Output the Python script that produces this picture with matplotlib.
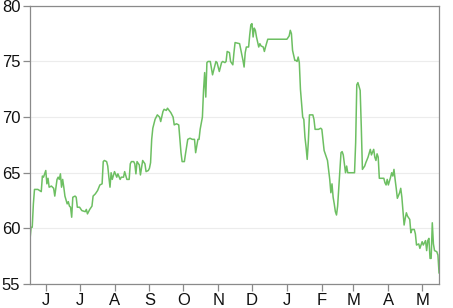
import matplotlib
matplotlib.use('Agg')

import matplotlib.pyplot as plt
import matplotlib.dates as mdates
import pandas as pd

# daily price series (May 2021 - May 2022)
dates = [
    "2021-05-18", "2021-05-19", "2021-05-20", "2021-05-21", "2021-05-22", "2021-05-25",
    "2021-05-28", "2021-05-29", "2021-05-30", "2021-06-01", "2021-06-02", "2021-06-03",
    "2021-06-04", "2021-06-06", "2021-06-08", "2021-06-09", "2021-06-11", "2021-06-12",
    "2021-06-13", "2021-06-14", "2021-06-15", "2021-06-16", "2021-06-17", "2021-06-18",
    "2021-06-20", "2021-06-21", "2021-06-22", "2021-06-23", "2021-06-24", "2021-06-25",
    "2021-06-27", "2021-06-28", "2021-06-29", "2021-07-01", "2021-07-03", "2021-07-06",
    "2021-07-07", "2021-07-08", "2021-07-10", "2021-07-12", "2021-07-13", "2021-07-15",
    "2021-07-17", "2021-07-19", "2021-07-21", "2021-07-22", "2021-07-23", "2021-07-25",
    "2021-07-26", "2021-07-27", "2021-07-28", "2021-07-29", "2021-07-30", "2021-08-01",
    "2021-08-03", "2021-08-04", "2021-08-06", "2021-08-07", "2021-08-09", "2021-08-10",
    "2021-08-12", "2021-08-14", "2021-08-15", "2021-08-16", "2021-08-18", "2021-08-19",
    "2021-08-20", "2021-08-21", "2021-08-23", "2021-08-24", "2021-08-26", "2021-08-28",
    "2021-08-29", "2021-08-31", "2021-09-01", "2021-09-02", "2021-09-03", "2021-09-04",
    "2021-09-06", "2021-09-08", "2021-09-10", "2021-09-11", "2021-09-13", "2021-09-14",
    "2021-09-16", "2021-09-17", "2021-09-20", "2021-09-22", "2021-09-23", "2021-09-25",
    "2021-09-27", "2021-09-28", "2021-09-29", "2021-09-30", "2021-10-02", "2021-10-03",
    "2021-10-05", "2021-10-07", "2021-10-09", "2021-10-11", "2021-10-12", "2021-10-14",
    "2021-10-15", "2021-10-16", "2021-10-18", "2021-10-19", "2021-10-20", "2021-10-21",
    "2021-10-22", "2021-10-23", "2021-10-25", "2021-10-27", "2021-10-29", "2021-10-30",
    "2021-10-31", "2021-11-02", "2021-11-04", "2021-11-05", "2021-11-07", "2021-11-08",
    "2021-11-09", "2021-11-11", "2021-11-12", "2021-11-14", "2021-11-15", "2021-11-16",
    "2021-11-20", "2021-11-23", "2021-11-24", "2021-11-25", "2021-11-26", "2021-11-28",
    "2021-11-29", "2021-11-30", "2021-12-01", "2021-12-02", "2021-12-03", "2021-12-04",
    "2021-12-05", "2021-12-07", "2021-12-08", "2021-12-09", "2021-12-11", "2021-12-12",
    "2021-12-13", "2021-12-15", "2022-01-01", "2022-01-03", "2022-01-04", "2022-01-05",
    "2022-01-06", "2022-01-08", "2022-01-09", "2022-01-10", "2022-01-11", "2022-01-12",
    "2022-01-13", "2022-01-15", "2022-01-16", "2022-01-17", "2022-01-18", "2022-01-19",
    "2022-01-20", "2022-01-21", "2022-01-24", "2022-01-25", "2022-01-26", "2022-01-29",
    "2022-01-31", "2022-02-01", "2022-02-03", "2022-02-04", "2022-02-06", "2022-02-08",
    "2022-02-09", "2022-02-10", "2022-02-11", "2022-02-12", "2022-02-13", "2022-02-14",
    "2022-02-15", "2022-02-17", "2022-02-18", "2022-02-19", "2022-02-20", "2022-02-22",
    "2022-02-23", "2022-02-24", "2022-02-26", "2022-03-02", "2022-03-03", "2022-03-04",
    "2022-03-05", "2022-03-07", "2022-03-08", "2022-03-09", "2022-03-11", "2022-03-12",
    "2022-03-14", "2022-03-16", "2022-03-17", "2022-03-19", "2022-03-20", "2022-03-21",
    "2022-03-22", "2022-03-23", "2022-03-24", "2022-03-27", "2022-03-28", "2022-03-29",
    "2022-03-30", "2022-03-31", "2022-04-01", "2022-04-03", "2022-04-04", "2022-04-05",
    "2022-04-06", "2022-04-07", "2022-04-08", "2022-04-09", "2022-04-11", "2022-04-12",
    "2022-04-13", "2022-04-14", "2022-04-15", "2022-04-16", "2022-04-17", "2022-04-18",
    "2022-04-20", "2022-04-21", "2022-04-22", "2022-04-24", "2022-04-25", "2022-04-26",
    "2022-04-28", "2022-04-29", "2022-05-01", "2022-05-02", "2022-05-04", "2022-05-05",
    "2022-05-06", "2022-05-07", "2022-05-08", "2022-05-09", "2022-05-10", "2022-05-11",
    "2022-05-12", "2022-05-14", "2022-05-15", "2022-05-16",
]

prices = [
    59.0, 60.1, 60.1, 62.2, 63.5, 63.5,
    63.3, 64.7, 64.6, 65.2, 64.0, 64.5,
    63.7, 63.8, 63.6, 62.9, 64.4, 64.6,
    64.4, 64.9, 63.7, 64.4, 63.7, 62.9,
    62.2, 62.4, 62.0, 61.9, 61.0, 62.8,
    62.9, 62.8, 61.9, 61.9, 61.6, 61.5,
    61.7, 61.3, 61.7, 62.0, 62.9, 63.1,
    63.4, 63.9, 64.0, 66.0, 66.1, 66.0,
    65.6, 64.6, 63.7, 65.0, 64.4, 65.1,
    64.6, 64.9, 64.4, 64.6, 64.6, 65.1,
    64.4, 64.4, 65.8, 66.0, 66.0, 65.8,
    64.9, 66.0, 65.7, 64.8, 66.1, 65.8,
    65.1, 65.2, 65.4, 65.9, 68.0, 69.0,
    69.8, 70.2, 70.0, 69.6, 70.5, 70.7,
    70.6, 70.8, 70.4, 70.0, 69.3, 69.4,
    69.3, 68.1, 66.8, 66.0, 66.0, 66.7,
    68.0, 68.1, 68.0, 68.0, 66.8, 68.0,
    68.0, 68.9, 70.0, 72.4, 74.0, 71.8,
    74.9, 75.0, 75.0, 73.8, 74.6, 75.0,
    74.9, 74.1, 74.9, 75.0, 74.9, 75.0,
    75.9, 75.8, 75.0, 74.7, 75.8, 76.7,
    76.6, 75.1, 74.5, 75.8, 76.3, 76.3,
    77.4, 78.3, 78.4, 77.2, 78.0, 77.8,
    77.2, 76.3, 76.6, 76.4, 76.3, 75.9,
    76.3, 77.0, 77.0, 77.3, 77.8, 77.5,
    76.0, 75.1, 75.1, 75.0, 75.4, 74.9,
    72.5, 70.0, 69.8, 68.2, 67.3, 66.2,
    67.8, 70.2, 70.2, 69.8, 68.9, 68.9,
    69.0, 68.9, 67.0, 66.7, 66.1, 64.4,
    63.2, 64.0, 62.8, 62.2, 61.5, 61.2,
    62.0, 65.1, 66.8, 66.9, 66.6, 65.0,
    65.6, 65.0, 65.0, 65.0, 67.7, 72.9,
    73.1, 72.4, 69.1, 65.3, 65.6, 65.9,
    66.4, 67.1, 66.6, 67.1, 66.4, 66.1,
    66.7, 66.4, 64.5, 64.5, 64.5, 64.1,
    63.9, 64.4, 63.9, 64.6, 65.0, 64.7,
    65.3, 64.4, 63.6, 62.7, 63.2, 63.6,
    62.8, 61.6, 60.3, 60.9, 61.4, 61.1,
    60.8, 59.6, 59.9, 59.9, 59.5, 58.5,
    58.6, 58.2, 58.8, 58.5, 58.9, 58.0,
    58.9, 59.1, 57.3, 57.3, 60.5, 58.6,
    58.0, 57.9, 57.6, 56.0,
]

month_labels = ["J", "J", "A", "S", "O", "N", "D", "J", "F", "M", "A", "M"]

x = pd.to_datetime(dates)

plt.rcParams['font.family'] = ['Liberation Sans', 'DejaVu Sans']

fig = plt.figure(figsize=(4.53, 3.08), dpi=100)
ax = fig.add_axes([0.0662, 0.078, 0.903, 0.903])

ax.plot(x, prices, color="#6dbf62", linewidth=1.1)

ax.set_xlim(x[0], x[-1])
ax.set_ylim(55, 80)
ax.set_yticks(range(55, 81, 5))

ax.xaxis.set_major_locator(mdates.MonthLocator())
ticks = ax.get_xticks()
ax.set_xticks(ticks)
ax.set_xticklabels(month_labels[:len(ticks)])

ax.grid(axis="y", color="#ececec", linewidth=0.8)
ax.set_axisbelow(True)
for s in ax.spines.values():
    s.set_color("#8a8a8a")
    s.set_linewidth(0.9)

ax.tick_params(axis="both", colors="#8a8a8a", labelcolor="#111111", labelsize=12, length=5, width=0.9)
ax.tick_params(axis="y", pad=2)
ax.tick_params(axis="x", pad=1.5)

plt.savefig("out.png", dpi=100)
